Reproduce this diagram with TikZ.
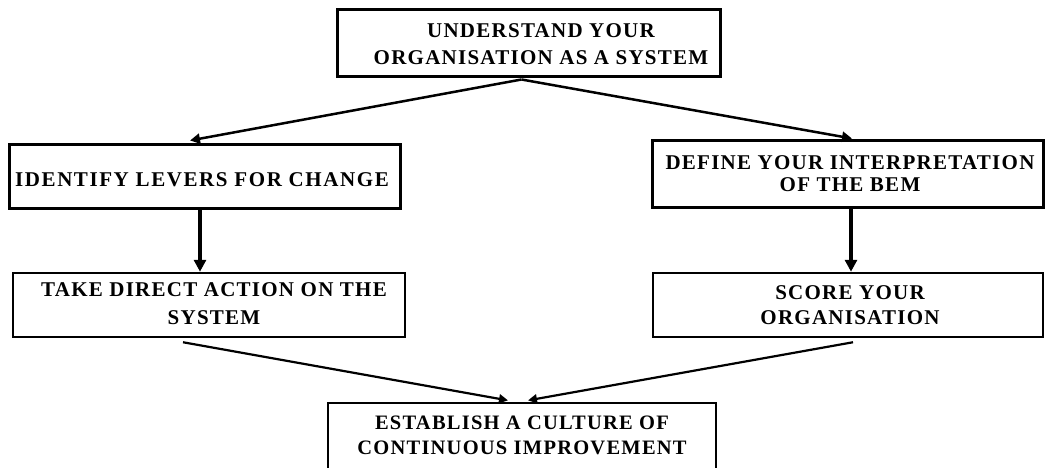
\documentclass[tikz,border=0pt]{standalone}
\usepackage{fontspec}
\setmainfont{Liberation Serif}[LetterSpace=6]
\usetikzlibrary{arrows.meta}
\begin{document}
\begin{tikzpicture}[x=1pt,y=-1pt,
  box/.style={draw, line width=3pt, rectangle, inner sep=0pt},
  txt/.style={align=center, inner sep=0pt, font=\fontsize{21}{26}\selectfont\bfseries},
  arr/.style={-{Triangle[length=11pt,width=11pt]}, line width=2.5pt}]
\useasboundingbox (0,0) rectangle (1045,468);
\clip (0,0) rectangle (1045,468);
% boxes
\node[box, minimum width=383pt, minimum height=67pt] (top) at (528.5,43.5) {};
\node[box, minimum width=391pt, minimum height=64pt] (L1) at (204.5,177) {};
\node[box, minimum width=391pt, minimum height=67pt] (R1) at (847.5,174.5) {};
\node[box, line width=2.5pt, minimum width=392pt, minimum height=64pt] (L2) at (209,305) {};
\node[box, line width=2.5pt, minimum width=390pt, minimum height=64pt] (R2) at (848,305) {};
\node[box, line width=1.2pt, minimum width=388pt, minimum height=69pt] (B) at (522,437.5) {};
% texts
\node[txt, font=\fontsize{21}{27}\selectfont\bfseries] (topt) at (541,44.5) {UNDERSTAND YOUR\\ORGANISATION AS A SYSTEM};
\node[txt, font=\fontsize{21}{26}\selectfont\bfseries\addfontfeatures{LetterSpace=7.5}] (L1t) at (202,180) {IDENTIFY LEVERS FOR CHANGE};
\node[txt, font=\fontsize{21}{22}\selectfont\bfseries] (R1t) at (850,174) {DEFINE YOUR INTERPRETATION\\OF THE BEM};
\node[txt, font=\fontsize{21}{28}\selectfont\bfseries] (L2t) at (214,304) {TAKE DIRECT ACTION ON THE\\SYSTEM};
\node[txt, font=\fontsize{21}{25}\selectfont\bfseries] (R2t) at (850,305.5) {SCORE YOUR\\ORGANISATION};
\node[txt, font=\fontsize{20.5}{25}\selectfont\bfseries] (Bt) at (522,435.5) {ESTABLISH A CULTURE OF\\CONTINUOUS IMPROVEMENT};
% connectors
\draw[arr, -{Triangle[length=10pt,width=10pt]}] ([xshift=-7pt,yshift=-1pt]top.south) -- ([xshift=-14.5pt,yshift=3pt]L1.north);
\draw[arr, -{Triangle[length=10pt,width=10pt]}] ([xshift=-7pt,yshift=-1pt]top.south) -- ([xshift=4.5pt,yshift=1pt]R1.north);
\draw[arr, line width=3.5pt, -{Triangle[length=12pt,width=12pt]}] ([xshift=-4.5pt]L1.south) -- ([xshift=-9pt]L2.north);
\draw[arr, line width=3.5pt, -{Triangle[length=12pt,width=12pt]}] ([xshift=3.5pt]R1.south) -- ([xshift=3pt]R2.north);
\draw[arr, line width=2.2pt, -{Triangle[length=9pt,width=9pt]}] ([xshift=-26pt,yshift=-4pt]L2.south) -- ([xshift=-14pt,yshift=2pt]B.north);
\draw[arr, line width=2.2pt, -{Triangle[length=9pt,width=9pt]}] ([xshift=5pt,yshift=-4pt]R2.south) -- ([xshift=6pt,yshift=2pt]B.north);
\end{tikzpicture}
\end{document}
